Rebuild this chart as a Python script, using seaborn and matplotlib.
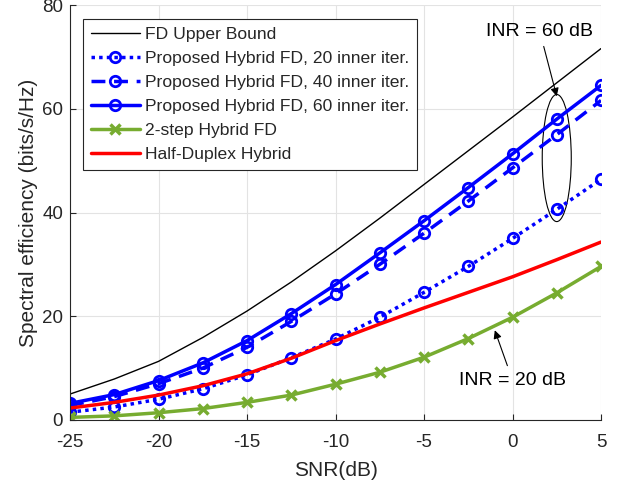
import numpy as np
import pandas as pd
import seaborn as sns
import matplotlib
matplotlib.use("Agg")
import matplotlib.pyplot as plt
from matplotlib.patches import Ellipse

snr = [-25, -22.5, -20, -17.5, -15, -12.5, -10, -7.5, -5, -2.5, 0, 2.5, 5]
fd_upper = [5.0, 7.9, 11.3, 15.9, 21.0, 26.6, 32.6, 38.9, 45.4, 51.9, 58.4, 65.0, 71.6]
prop_20 = [1.5, 2.5, 4.0, 6.0, 8.7, 12.0, 15.6, 19.8, 24.6, 29.6, 35.0, 40.6, 46.4]
prop_40 = [2.8, 4.5, 7.0, 10.0, 14.0, 19.0, 24.3, 30.0, 36.0, 42.2, 48.6, 55.0, 61.6]
prop_60 = [3.2, 4.9, 7.6, 11.0, 15.3, 20.5, 26.1, 32.2, 38.4, 44.8, 51.3, 58.0, 64.5]
two_step = [0.5, 0.8, 1.4, 2.2, 3.4, 4.8, 6.9, 9.2, 12.1, 15.7, 19.8, 24.5, 29.6]
half_duplex = [2.3, 3.4, 4.8, 6.6, 8.9, 11.9, 15.3, 18.5, 21.6, 24.6, 27.6, 30.9, 34.3]

labels = ["FD Upper Bound",
          "Proposed Hybrid FD, 20 inner iter.",
          "Proposed Hybrid FD, 40 inner iter.",
          "Proposed Hybrid FD, 60 inner iter.",
          "2-step Hybrid FD",
          "Half-Duplex Hybrid"]
x_ticks = [-25, -20, -15, -10, -5, 0, 5]
y_ticks = [0, 20, 40, 60, 80]

sns.set_theme(style="ticks")
plt.rcParams["font.family"] = ["Liberation Sans", "DejaVu Sans"]

fig = plt.figure(figsize=(6.21, 4.87), dpi=100)
ax = fig.add_axes([70 / 621, 1 - 420 / 487, 531 / 621, 415 / 487])

blue = "#0000FF"
green = "#77AC30"
red = "#FF0000"

sns.lineplot(x=snr, y=fd_upper, ax=ax, color="black", lw=1.0, label=labels[0])
sns.lineplot(x=snr, y=prop_20, ax=ax, color=blue, lw=2.5, linestyle=(0, (1, 1.2)),
             marker="o", markersize=7.5, markerfacecolor="none", markeredgecolor=blue,
             markeredgewidth=2, label=labels[1])
sns.lineplot(x=snr, y=prop_40, ax=ax, color=blue, lw=2.5, linestyle=(0, (4, 2.5)),
             marker="o", markersize=7.5, markerfacecolor="none", markeredgecolor=blue,
             markeredgewidth=2, label=labels[2])
sns.lineplot(x=snr, y=prop_60, ax=ax, color=blue, lw=2.5, linestyle="-",
             marker="o", markersize=7.5, markerfacecolor="none", markeredgecolor=blue,
             markeredgewidth=2, label=labels[3])
sns.lineplot(x=snr, y=two_step, ax=ax, color=green, lw=2.5, linestyle="-",
             marker="x", markersize=7, markeredgecolor=green,
             markeredgewidth=2.5, label=labels[4])
sns.lineplot(x=snr, y=half_duplex, ax=ax, color=red, lw=2.5, linestyle="-",
             label=labels[5])

ax.set_xlim(-25, 5)
ax.set_ylim(0, 80)
ax.set_xticks(x_ticks)
ax.set_yticks(y_ticks)
ax.set_xticklabels([str(t) for t in x_ticks])
ax.grid(True, color="#e3e3e3", lw=0.8)
ax.set_axisbelow(True)
for s in ["top", "right"]:
    ax.spines[s].set_visible(False)
for s in ["left", "bottom"]:
    ax.spines[s].set_color("#262626")
    ax.spines[s].set_linewidth(0.8)
ax.tick_params(direction="in", length=4, width=0.8, color="#262626",
               labelsize=13.5, labelcolor="#262626")
ax.tick_params(axis="x", pad=10)
ax.tick_params(axis="y", pad=5)
ax.set_xlabel("SNR(dB)", fontsize=15, color="#262626", labelpad=7)
ax.set_ylabel("Spectral efficiency (bits/s/Hz)", fontsize=15, color="#262626", labelpad=3)

leg = ax.legend(loc="upper left", bbox_to_anchor=(0.0245, 0.966), fontsize=12.6,
                frameon=True, fancybox=False, edgecolor="#262626", framealpha=1,
                handlelength=2.8, handletextpad=0.3, borderpad=0.45, labelspacing=0.5,
                borderaxespad=0)
leg.get_frame().set_linewidth(0.8)

ell = Ellipse((2.5, 50.5), width=1.64, height=24.5, fill=False, ec="black", lw=0.8)
ax.add_patch(ell)
ax.annotate("INR = 60 dB", xy=(2.5, 62.4), xytext=(1.55, 74.8), fontsize=14,
            ha="center", va="center", color="black",
            arrowprops=dict(arrowstyle="-|>", color="black", lw=0.8,
                            mutation_scale=12, shrinkA=2, shrinkB=0))
ax.annotate("INR = 20 dB", xy=(-1.0, 17.3), xytext=(0.0, 7.7), fontsize=14,
            ha="center", va="center", color="black",
            arrowprops=dict(arrowstyle="-|>", color="black", lw=0.8,
                            mutation_scale=12, shrinkA=2, shrinkB=0))

fig.savefig("out.png", dpi=100)
